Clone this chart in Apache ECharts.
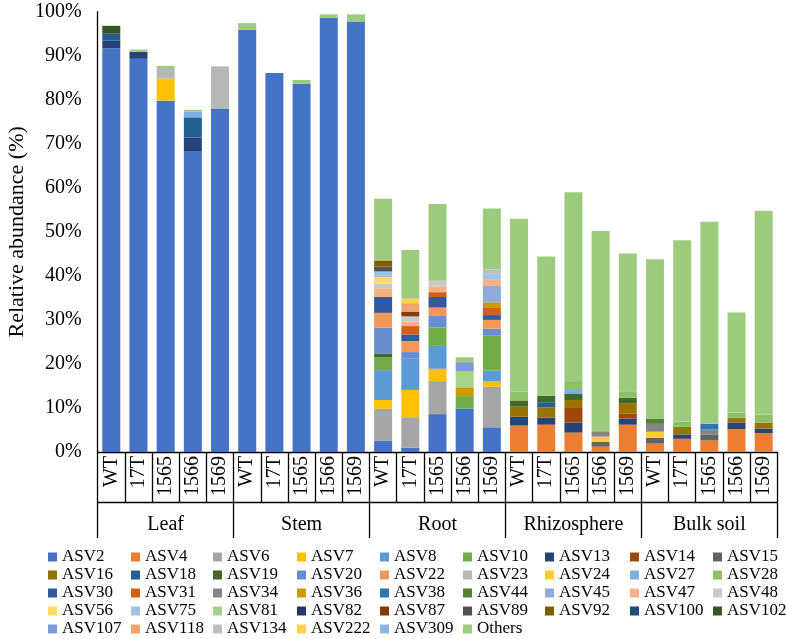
<!DOCTYPE html>
<html><head><meta charset="utf-8">
<script src="https://cdn.jsdelivr.net/npm/echarts/dist/echarts.min.js"></script>
<style>html,body{margin:0;padding:0;background:#fff}#c{width:786px;height:639px}</style>
</head><body><div id="c"></div>
<script>
// ---------- DATA ----------
const subLabels = ['WT','17T','1565','1566','1569','WT','17T','1565','1566','1569','WT','17T','1565','1566','1569','WT','17T','1565','1566','1569','WT','17T','1565','1566','1569'];
const groups = ['Leaf','Stem','Root','Rhizosphere','Bulk soil'];
const yTickValues = [0,10,20,30,40,50,60,70,80,90,100];

//            Leaf                          Stem                         Root                          Rhizosphere                  Bulk soil
const ASV2   = [91.7,89.3,79.8,68.2,78.0,  95.9,86.1,83.6,98.6,97.8,  2.6,1.0,8.6,9.9,5.6,  0,0,0,0,0,  0,0,0,0,0];
const ASV4   = [0,0,0,0,0,  0,0,0,0,0,  0,0,0,0,0,  6.0,6.2,4.4,1.2,6.2,  1.9,3.0,2.6,5.2,4.3];
const ASV6   = [0,0,0,0,0,  0,0,0,0,0,  7.2,6.9,7.5,0,9.2,  0,0,0,0,0,  0,0,0,0,0];
const ASV7   = [0,0,5.0,0,0,  0,0,0,0,0,  2.0,6.2,2.8,0,1.2,  0,0,0,0,0,  0,0,0,0,0];
const ASV8   = [0,0,0,0,0,  0,0,0,0,0,  6.8,7.2,5.2,0,2.5,  0,0,0,0,0,  0,0,0,0,0];
const ASV10  = [0,0,0,0,0,  0,0,0,0,0,  2.9,0,4.2,2.8,7.9,  0,0,0,0,0,  0,0,0,0,0];
const ASV13  = [1.7,1.6,0,3.2,0,  0,0,0,0,0,  0,0,0,0,0,  2.0,1.6,2.3,0,1.4,  0,1.0,0,1.5,1.0];
const ASV14  = [0,0,0,0,0,  0,0,0,0,0,  0,0,0,0,0,  0,0,3.3,0,1.1,  0,0,0,0,0];
const ASV15  = [0,0,0,0,0,  0,0,0,0,0,  0,0,0,0,0,  0,0,0,1.1,0,  1.3,0,1.3,0,0];
const ASV16  = [0,0,0,0,0,  0,0,0,0,0,  0,0,0,0,0,  2.3,2.3,1.8,0,2.4,  0,1.7,0,1.1,1.4];
const ASV18  = [1.6,0,0,4.6,0,  0,0,0,0,0,  0,0,0,0,0,  0,1.2,0,0,0,  0,0,0,0,0];
const ASV19  = [0,0,0,0,0,  0,0,0,0,0,  0.9,0,0,0,0,  1.4,1.5,1.5,0,1.2,  0,0,0,0,0];
const ASV20  = [0,0,0,0,0,  0,0,0,0,0,  5.8,1.4,2.6,0,1.6,  0,0,0,0,0,  0,0,0,0,0];
const ASV22  = [0,0,0,0,0,  0,0,0,0,0,  3.4,2.5,1.9,0,2.0,  0,0,0,0,0,  0,0,0,0,0];
const ASV23  = [0,0,2.2,0,9.6,  0,0,0,0,0,  0,0,0,0,0,  0,0,0,0,0,  0,0,0,0,0];
const ASV24  = [0,0,0,0,0,  0,0,0,0,0,  0,0,0,0,0,  0,0,0,1.2,0,  1.4,0,0,0,0];
const ASV27  = [0,0,0,1.3,0,  0,0,0,0,0,  0,0,0,0,0,  0,0,1.0,0,0,  0,0,0,0,0];
const ASV28  = [0,0,0,0,0,  0,0,0,0,0,  0,0,0,0,0,  2.0,0,1.8,0,1.5,  0,1.2,0,1.2,1.8];
const ASV30  = [0,0,0,0,0,  0,0,0,0,0,  3.6,1.5,2.4,0,1.1,  0,0,0,0,0,  0,0,0,0,0];
const ASV31  = [0,0,0,0,0,  0,0,0,0,0,  0,1.9,1.1,0,1.6,  0,0,0,0,0,  0,0,0,0,0];
const ASV34  = [0,0,0,0,0,  0,0,0,0,0,  0,0,0,0,0,  0,0,0,1.2,0,  1.8,0,1.2,0,0];
const ASV36  = [0,0,0,0,0,  0,0,0,0,0,  0,0,0,2.0,1.3,  0,0,0,0,0,  0,0,0,0,0];
const ASV38  = [0,0,0,0,0,  0,0,0,0,0,  0,0,0,0,0,  0,0,0,0,0,  0,0,1.3,0,0];
const ASV44  = [0,0,0,0,0,  0,0,0,0,0,  0,0,0,0,0,  0,0,0,0,0,  1.2,0,0,0,0];
const ASV45  = [0,0,0,0,0,  0,0,0,0,0,  0,0,0,0,3.7,  0,0,0,0,0,  0,0,0,0,0];
const ASV47  = [0,0,0,0,0,  0,0,0,0,0,  2.0,1.0,1.3,0,1.4,  0,0,0,0,0,  0,0,0,0,0];
const ASV48  = [0,0,0,0,0,  0,0,0,0,0,  1.1,1.2,1.3,0,0,  0,0,0,0,0,  0,0,0,0,0];
const ASV56  = [0,0,0,0,0,  0,0,0,0,0,  1.4,0,0,0,0,  0,0,0,0,0,  0,0,0,0,0];
const ASV75  = [0,0,0,0,0,  0,0,0,0,0,  1.3,0,0,0,1.3,  0,0,0,0,0,  0,0,0,0,0];
const ASV81  = [0,0,0,0,0,  0,0,0,0,0,  0,0,0,3.7,0,  0,0,0,0,0,  0,0,0,0,0];
const ASV82  = [0,0,0,0,0,  0,0,0,0,0,  0,0,0,0,0,  0,0,0,0,0,  0,0,0,0,0];
const ASV87  = [0,0,0,0,0,  0,0,0,0,0,  0,1.1,0,0,0,  0,0,0,0,0,  0,0,0,0,0];
const ASV89  = [0,0,0,0,0,  0,0,0,0,0,  1.1,0,0,0,0,  0,0,0,0,0,  0,0,0,0,0];
const ASV92  = [0,0,0,0,0,  0,0,0,0,0,  1.4,0,0,0,0,  0,0,0,0,0,  0,0,0,0,0];
const ASV100 = [0,0,0,0,0,  0,0,0,0,0,  0,0,0,0,0,  0,0,0,0,0,  0,0,0,0,0];
const ASV102 = [1.8,0,0,0,0,  0,0,0,0,0,  0,0,0,0,0,  0,0,0,0,0,  0,0,0,0,0];
const ASV107 = [0,0,0,0,0,  0,0,0,0,0,  0,0,0,2.0,0,  0,0,0,0,0,  0,0,0,0,0];
const ASV118 = [0,0,0,0,0,  0,0,0,0,0,  0,1.9,0,0,0,  0,0,0,0,0,  0,0,0,0,0];
const ASV134 = [0,0,0,0,0,  0,0,0,0,0,  0,0,0,0,1.1,  0,0,0,0,0,  0,0,0,0,0];
const ASV222 = [0,0,0,0,0,  0,0,0,0,0,  0,1.0,0,0,0,  0,0,0,0,0,  0,0,0,0,0];
const ASV309 = [0,0,0,0,0,  0,0,0,0,0,  0,0,0,0,0,  0,0,0,0,0,  0,0,0,0,0];
const Others = [0,0.5,0.7,0.4,0,  1.5,0,0.9,0.8,1.6,  14.0,11.1,17.4,1.1,13.8,  39.3,31.6,42.9,45.5,31.3,  36.2,41.2,45.9,22.7,46.3];

const seriesNames = ['ASV2','ASV4','ASV6','ASV7','ASV8','ASV10','ASV13','ASV14','ASV15',
  'ASV16','ASV18','ASV19','ASV20','ASV22','ASV23','ASV24','ASV27','ASV28',
  'ASV30','ASV31','ASV34','ASV36','ASV38','ASV44','ASV45','ASV47','ASV48',
  'ASV56','ASV75','ASV81','ASV82','ASV87','ASV89','ASV92','ASV100','ASV102',
  'ASV107','ASV118','ASV134','ASV222','ASV309','Others'];
const seriesValues = [ASV2,ASV4,ASV6,ASV7,ASV8,ASV10,ASV13,ASV14,ASV15,
  ASV16,ASV18,ASV19,ASV20,ASV22,ASV23,ASV24,ASV27,ASV28,
  ASV30,ASV31,ASV34,ASV36,ASV38,ASV44,ASV45,ASV47,ASV48,
  ASV56,ASV75,ASV81,ASV82,ASV87,ASV89,ASV92,ASV100,ASV102,
  ASV107,ASV118,ASV134,ASV222,ASV309,Others];
const seriesColors = ['#4472C4','#ED7D31','#A5A5A5','#FFC000','#5B9BD5','#70AD47','#264478','#9E480E','#636363',
  '#997300','#255E91','#43682B','#698ED0','#F1975A','#B7B7B7','#FFCD33','#7CAFDD','#8CC168',
  '#335AA1','#D26012','#848484','#CC9A00','#2E75B6','#548235','#8FAADC','#F4B183','#C9C9C9',
  '#FFD966','#9DC3E6','#A9D18E','#203864','#843C0C','#525252','#7F6000','#1F4E79','#375623',
  '#7F9BD6','#F4A56F','#BFBFBF','#FFD24D','#8AB8E3','#9DCB7E'];

// ---------- CHART ----------
const FONT = '"Liberation Serif", "Times New Roman", serif';
const chart = echarts.init(document.getElementById('c'), null, {renderer:'canvas'});

const legendCols = [48,131,213,297,380,463,545,630,713];
const legends = legendCols.map((x, c) => ({
  orient: 'vertical', left: x, top: 548, padding: 0, itemGap: 0,
  itemWidth: 9, itemHeight: 9, icon: 'rect', selectedMode: false,
  textStyle: {fontFamily: FONT, fontSize: 17, color: '#000', lineHeight: 18},
  data: seriesNames.filter((n, i) => i % 9 === c)
}));

const series = seriesNames.map((n, i) => ({
  name: n, type: 'bar', stack: 'total', barWidth: 18,
  xAxisIndex: 0, yAxisIndex: 0,
  itemStyle: {color: seriesColors[i]},
  emphasis: {disabled: true},
  data: seriesValues[i]
}));

chart.setOption({
  animation: false,
  backgroundColor: '#fff',
  grid: {left: 97.7, right: 8.7, top: 11.7, bottom: 187, containLabel: false, outerBoundsMode: 'none'},
  legend: legends,
  xAxis: [
    {type: 'category', data: subLabels, position: 'bottom',
     axisLine: {show: true, lineStyle: {color: '#000', width: 1.3}},
     axisTick: {show: true, interval: 0, length: 50, lineStyle: {color: '#000', width: 1.3}},
     axisLabel: {interval: 0, rotate: 90, margin: 4, fontFamily: FONT, fontSize: 20, color: '#000'}},
    {type: 'category', data: groups, position: 'bottom', offset: 50,
     axisLine: {show: true, lineStyle: {color: '#000', width: 1.3}},
     axisTick: {show: true, interval: 0, length: 36, lineStyle: {color: '#000', width: 1.3}},
     axisLabel: {interval: 0, margin: 13, fontFamily: FONT, fontSize: 20, color: '#000'}}
  ],
  yAxis: {type: 'value', min: yTickValues[0], max: yTickValues[yTickValues.length-1], interval: 10,
    name: 'Relative abundance (%)', nameLocation: 'middle', nameGap: 69, nameMoveOverlap: false,
    nameTextStyle: {fontFamily: FONT, fontSize: 22, color: '#000'},
    axisLine: {show: true, lineStyle: {color: '#000', width: 1.3}},
    axisTick: {show: false}, splitLine: {show: false},
    axisLabel: {formatter: '{value}%', margin: 16, fontFamily: FONT, fontSize: 20, color: '#000'}},
  series: series
});
</script></body></html>
